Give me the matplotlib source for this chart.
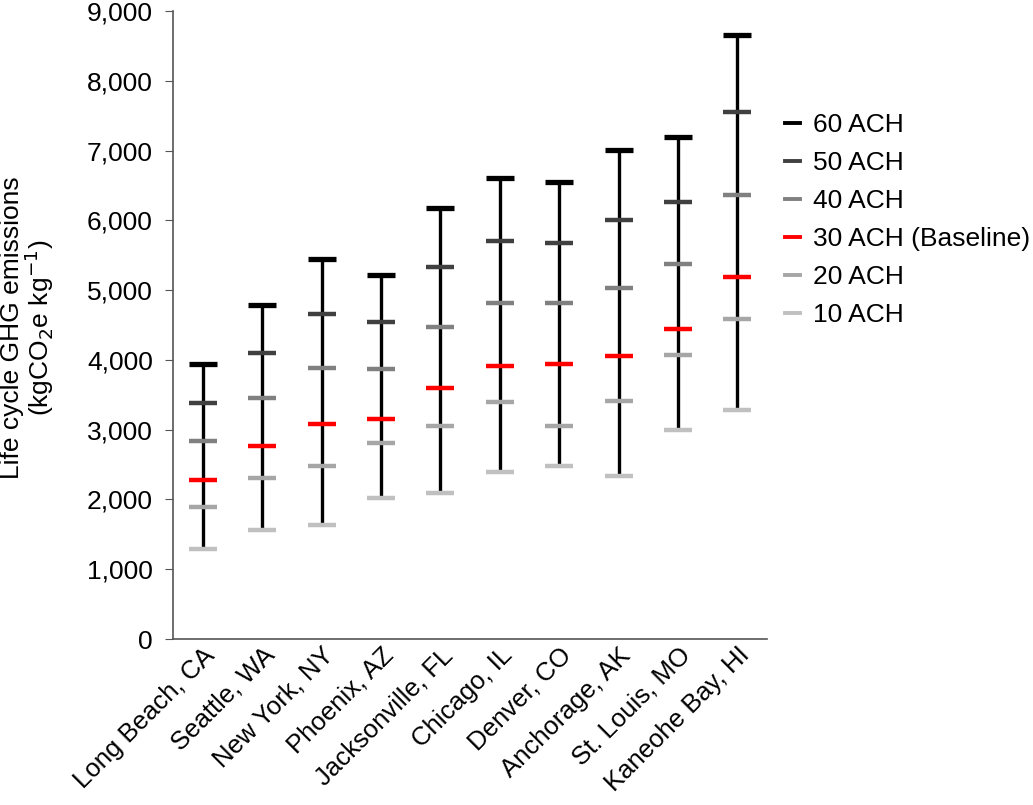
import matplotlib
matplotlib.use("Agg")
import matplotlib.pyplot as plt
from matplotlib.lines import Line2D
import numpy as np

plt.rcParams['font.family'] = ['Liberation Sans', 'DejaVu Sans']

cities = ["Long Beach, CA", "Seattle, WA", "New York, NY", "Phoenix, AZ",
          "Jacksonville, FL", "Chicago, IL", "Denver, CO", "Anchorage, AK",
          "St. Louis, MO", "Kaneohe Bay, HI"]

ach60 = [3943, 4787, 5453, 5221, 6184, 6601, 6553, 7005, 7190, 8652]
ach50 = [3383, 4103, 4656, 4543, 5334, 5702, 5679, 6006, 6267, 7547]
ach40 = [2843, 3449, 3877, 3865, 4471, 4811, 4817, 5036, 5370, 6363]
ach30 = [2278, 2766, 3081, 3157, 3603, 3919, 3942, 4056, 4448, 5191]
ach20 = [1885, 2301, 2479, 2813, 3051, 3395, 3057, 3408, 4067, 4590]
ach10 = [1284, 1569, 1641, 2022, 2099, 2390, 2479, 2337, 2991, 3282]

series_labels = ["60 ACH", "50 ACH", "40 ACH", "30 ACH (Baseline)", "20 ACH", "10 ACH"]
series_values = [ach60, ach50, ach40, ach30, ach20, ach10]
series_colors = ["#000000", "#404040", "#808080", "#ff0000", "#a6a6a6", "#c0c0c0"]
series_mew = [3.8, 3.2, 3.2, 3.2, 3.2, 3.2]

fig = plt.figure(figsize=(10.33, 8.05), dpi=100)
ax = fig.add_axes([0.1675, 0.2062, 0.575, 0.7801])

x = np.arange(len(cities)) + 0.5
ax.vlines(x, ach10, ach60, color="black", lw=2.4, zorder=1)

handles = []
for vals, lab, col, mw in zip(series_values, series_labels, series_colors, series_mew):
    ax.plot(x, vals, linestyle="none", marker="_", ms=19.5, mew=mw, color=col, zorder=2)
    handles.append(Line2D([0], [0], color=col, lw=2.8))

ax.set_xlim(0, len(cities))
ax.set_ylim(0, 9000)
ax.set_yticks(np.arange(0, 9001, 1000))
ax.set_yticklabels([f"{v:,}" for v in range(0, 9001, 1000)], fontsize=19)
ax.set_xticks(x)
ax.set_xticklabels(cities, rotation=45, ha="right", rotation_mode="anchor", fontsize=18.5)
ax.tick_params(axis="x", length=0, pad=3)
ax.tick_params(axis="y", direction="out", length=6, color="#555555", pad=8.5)

for s in ["top", "right"]:
    ax.spines[s].set_visible(False)
for s in ["left", "bottom"]:
    ax.spines[s].set_color("#555555")
    ax.spines[s].set_linewidth(1.2)

ax.set_ylabel("Life cycle GHG emissions\n(kgCO$_2$e kg$^{-1}$)", fontsize=19, linespacing=0.95)
ax.yaxis.set_label_coords(-0.197, 0.495)

leg = fig.legend(handles, series_labels, loc="upper left", bbox_to_anchor=(0.737, 0.889),
                 frameon=False, fontsize=19, handlelength=0.57, handletextpad=0.5,
                 labelspacing=0.53)

fig.savefig("out.png", dpi=100)
